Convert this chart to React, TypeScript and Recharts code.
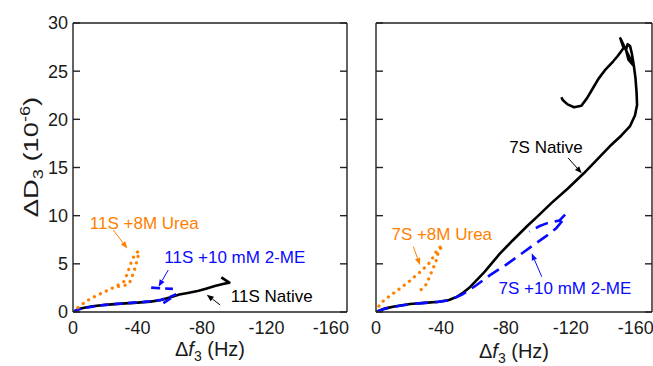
import React from "react";
import { LineChart, Line, XAxis, YAxis, ReferenceLine, ReferenceDot } from "recharts";

const FONT = "'Liberation Sans', Arial, sans-serif";
const FRAME = "#222";
const BLACK = "#000000";
const BLUE = "#0a0aff";
const ORANGE = "#ff8000";

const xMajor = [0, -40, -80, -120, -160];
const xMinor = [0, -20, -40, -60, -80, -100, -120, -140, -160];
const yTicks = [0, 5, 10, 15, 20, 25, 30];

// 11S panel: [delta f3 (Hz), delta D3 (1e-6)]
const native11S = [
  [0, 0], [-3, 0.28], [-7, 0.45], [-12, 0.6], [-20, 0.74], [-30, 0.87], [-40, 0.97],
  [-48, 1.08], [-54, 1.22], [-60, 1.5], [-66, 1.82], [-72, 2.0], [-78, 2.2], [-83, 2.45],
  [-88, 2.7], [-93, 2.9], [-97, 3.05], [-92, 3.6],
];
const me11S = [
  [0, 0], [-4, 0.3], [-10, 0.5], [-19, 0.72], [-28, 0.85], [-36, 0.95], [-44, 1.05],
  [-50, 1.15], [-55, 1.28], [-60, 1.55], [-64, 1.85], [-60, 1.35], [-56, 0.92],
  [-52, null], [-48.5, 2.53], [-55, 2.45], [-62, 2.4],
];
const urea11S = [
  [0, 0], [-4, 0.6], [-9, 1.2], [-14, 1.65], [-19, 2.05], [-24, 2.45], [-28, 2.8],
  [-31.5, 3.15], [-33.5, 3.9], [-35, 4.6], [-36.6, 5.4], [-38.5, 6.0], [-40.5, 6.3],
  [-41, 6.2], [-39.5, 5.2], [-38, 4.3], [-36.5, 3.6], [-35, 3.0], [-33, 2.8],
  [-30, 2.7], [-26.5, 2.6],
];

// 7S panel
const native7S = [
  [0, 0], [-5, 0.35], [-12, 0.6], [-21, 0.83], [-30, 0.95], [-39, 1.07], [-45, 1.25],
  [-50, 1.6], [-54, 2.05], [-58, 2.6], [-62, 3.3], [-66, 4.0], [-71, 5.0], [-76, 6.0],
  [-84, 7.4], [-93, 8.9], [-100, 10.0], [-108, 11.3], [-118, 12.8], [-128, 14.4],
  [-136, 15.8], [-144, 17.2], [-151, 18.3], [-156.5, 19.3], [-159.5, 20.4],
  [-160.8, 21.5], [-160.5, 22.8], [-159.8, 24.3], [-158.8, 25.6], [-157.6, 26.8],
  [-156.5, 27.6], [-155, 27.8], [-154, 27.2], [-155.5, 26.2], [-158.5, 25.6],
  [-154.5, 27.0], [-150.5, 28.4], [-152.5, 27.4], [-149, 26.6], [-146, 26.0],
  [-141, 25.1], [-137, 24.2], [-133.5, 23.2], [-130, 22.2], [-126.5, 21.4],
  [-122, 21.25], [-118, 21.55], [-115, 22.0], [-114.2, 22.3],
];
const me7S = [
  [0, 0], [-6, 0.35], [-14, 0.62], [-22, 0.83], [-30, 0.95], [-38, 1.05], [-44, 1.2],
  [-49, 1.5], [-53, 1.8], [-62, 2.8], [-70, 3.8], [-80.5, 4.95], [-90, 6.1], [-97, 6.95],
  [-105, 7.9], [-111, 8.7], [-115, 9.5], [-116.5, 10.1], [-113, 9.5], [-105, 9.2],
  [-100.5, 8.9], [-94.5, 8.35],
];
const urea7S = [
  [0, 0], [-1, 0.45], [-4, 1.07], [-8, 1.6], [-12, 2.1], [-16, 2.6], [-20.3, 3.15],
  [-24, 3.7], [-27.5, 4.2], [-30, 4.6], [-32.6, 5.05], [-34.5, 5.5], [-35.7, 5.9],
  [-38, 6.5], [-40.8, 6.95], [-39.5, 6.5], [-38.2, 6.1], [-36.8, 5.2], [-34.7, 4.35],
  [-32.6, 3.5], [-30.6, 2.8], [-27.5, 2.28], [-26.5, 2.2],
];

// annotations: label centre and arrow (tail -> head) in data units
const notes11S = [
  { text: "11S +8M Urea", color: ORANGE, at: [-44.2, 9.14], from: [-25, 8.5], to: [-33.7, 6.6] },
  { text: "11S +10 mM 2-ME", color: BLUE, at: [-100.4, 5.69], from: [-59.1, 4.36], to: [-53.1, 2.63] },
  { text: "11S Native", color: BLACK, at: [-123.3, 1.66], from: [-91.3, 0.73], to: [-83, 1.8] },
];
const notes7S = [
  { text: "7S Native", color: BLACK, at: [-104.7, 17.08], from: [-118.3, 16.0], to: [-126.7, 14.4] },
  { text: "7S +8M Urea", color: ORANGE, at: [-40.5, 8.0], from: [-23, 6.78], to: [-27.1, 4.88] },
  { text: "7S +10 mM 2-ME", color: BLUE, at: [-116.4, 2.49], from: [-102.1, 3.66], to: [-95.9, 6.09] },
];

const toRows = (pts: (number | null)[][]) => pts.map(([f, d]) => ({ f, d }));

const arrowShape = (color: string) => (p: any) => {
  const { x1, y1, x2, y2 } = p;
  const a = Math.atan2(y2 - y1, x2 - x1);
  const L = 7;
  const W = 2.8;
  const bx = x2 - L * Math.cos(a);
  const by = y2 - L * Math.sin(a);
  const pts = `${x2},${y2} ${bx - W * Math.sin(a)},${by + W * Math.cos(a)} ${bx + W * Math.sin(a)},${by - W * Math.cos(a)}`;
  return (
    <g>
      <line x1={x1} y1={y1} x2={bx} y2={by} stroke={color} strokeWidth={1} />
      <polygon points={pts} fill={color} />
    </g>
  );
};

const noteShape = (text: string, color: string) => (p: any) => (
  <text x={p.cx} y={p.cy} textAnchor="middle" dominantBaseline="central" fill={color} fontSize={17} fontFamily={FONT}>
    {text}
  </text>
);

// inward tick marks, longer every 40 Hz
const tickMark = (dx: number, dy: number) => (p: any) => {
  const v = p.payload.value;
  const len = dy !== 0 && v % 40 !== 0 ? 4 : 7;
  return <line x1={p.x} y1={p.y} x2={p.x + dx * len} y2={p.y + dy * len} stroke={FRAME} strokeWidth={1.4} />;
};

const xTitle = (cx: number, by: number) => () => (
  <text x={cx} y={by} textAnchor="middle" fontSize={20} fill="#1a1a1a" fontFamily={FONT}>
    Δ<tspan fontStyle="italic">f</tspan>
    <tspan dy={5} fontSize={14}>3</tspan>
    <tspan dy={-5}> (Hz)</tspan>
  </text>
);

const yTitle = () => (
  <text transform="translate(38,157) rotate(-90) scale(1.3,1)" textAnchor="middle" fontSize={21} fill="#1a1a1a" fontFamily={FONT}>
    ΔD<tspan dy={5} fontSize={14}>3</tspan>
    <tspan dy={-5}> (10</tspan>
    <tspan dy={-8} fontSize={14}>-6</tspan>
    <tspan dy={8}>)</tspan>
  </text>
);

type PanelProps = {
  left: number;
  width: number;
  margin: { top: number; right: number; bottom: number; left: number };
  showY: boolean;
  titleX: number;
  titleY: number;
  native: number[][];
  me: (number | null)[][];
  urea: number[][];
  meDash: string;
  notes: typeof notes11S;
};

const Panel = ({ left, width, margin, showY, titleX, titleY, native, me, urea, meDash, notes }: PanelProps) => {
  const common = { type: "number" as const, domain: [-170, 0], allowDataOverflow: true, reversed: true, interval: 0 as const };
  const yCommon = { type: "number" as const, domain: [0, 30], allowDataOverflow: true, ticks: yTicks, interval: 0 as const };
  const frameLine = { stroke: FRAME, strokeWidth: 1.4 };
  return (
    <div style={{ position: "absolute", left, top: 0 }}>
      <LineChart width={width} height={366} margin={margin} style={{ fontFamily: FONT }}>
        <XAxis xAxisId="x" dataKey="f" {...common} ticks={xMajor} height={54} tickLine={false} tickSize={0} tickMargin={9}
          axisLine={frameLine} tick={{ fill: "#1a1a1a", fontSize: 18 }} label={xTitle(titleX, titleY)} />
        <XAxis xAxisId="xb" {...common} ticks={xMinor} mirror height={1} tickSize={0} tickMargin={0}
          axisLine={false} tickLine={false} tick={tickMark(0, -1)} />
        <XAxis xAxisId="xt" orientation="top" {...common} ticks={xMinor} mirror height={1} tickSize={0} tickMargin={0}
          axisLine={frameLine} tickLine={false} tick={tickMark(0, 1)} />
        <YAxis yAxisId="y" {...yCommon} width={60} tickLine={false} tickSize={0} tickMargin={5} axisLine={frameLine}
          tick={showY ? { fill: "#1a1a1a", fontSize: 18 } : false} label={showY ? yTitle : undefined} />
        <YAxis yAxisId="yl" {...yCommon} mirror width={1} tickSize={0} tickMargin={0}
          axisLine={false} tickLine={false} tick={tickMark(1, 0)} />
        <YAxis yAxisId="yr" orientation="right" {...yCommon} mirror width={1} tickSize={0} tickMargin={0}
          axisLine={frameLine} tickLine={false} tick={tickMark(-1, 0)} />

        <Line xAxisId="x" yAxisId="y" data={toRows(native)} dataKey="d" type="linear" stroke={BLACK} strokeWidth={2.6}
          dot={false} isAnimationActive={false} strokeLinejoin="round" />
        <Line xAxisId="x" yAxisId="y" data={toRows(me)} dataKey="d" type="linear" stroke={BLUE} strokeWidth={2.6}
          strokeDasharray={meDash} dot={false} isAnimationActive={false} />
        <Line xAxisId="x" yAxisId="y" data={toRows(urea)} dataKey="d" type="linear" stroke={ORANGE} strokeWidth={3.2}
          strokeDasharray="0.1 6.5" strokeLinecap="round" dot={false} isAnimationActive={false} />

        {notes.map((n) => (
          <ReferenceLine key={"a" + n.text} xAxisId="x" yAxisId="y" ifOverflow="visible"
            segment={[{ x: n.from[0], y: n.from[1] }, { x: n.to[0], y: n.to[1] }]} shape={arrowShape(n.color)} />
        ))}
        {notes.map((n) => (
          <ReferenceDot key={"t" + n.text} xAxisId="x" yAxisId="y" ifOverflow="visible" x={n.at[0]} y={n.at[1]} r={0}
            shape={noteShape(n.text, n.color)} />
        ))}
      </LineChart>
    </div>
  );
};

export default function App() {
  return (
    <div style={{ position: "absolute", left: 0, top: 0, width: 653, height: 366, background: "#fff", overflow: "hidden" }}>
      <Panel left={0} width={360} margin={{ top: 23, right: 13, bottom: 0, left: 13 }} showY titleX={210} titleY={356}
        native={native11S} me={me11S} urea={urea11S} meDash="9 5" notes={notes11S} />
      <Panel left={300} width={353} margin={{ top: 23, right: 1, bottom: 0, left: 16 }} showY={false} titleX={214} titleY={358}
        native={native7S} me={me7S} urea={urea7S} meDash="13 7" notes={notes7S} />
    </div>
  );
}
